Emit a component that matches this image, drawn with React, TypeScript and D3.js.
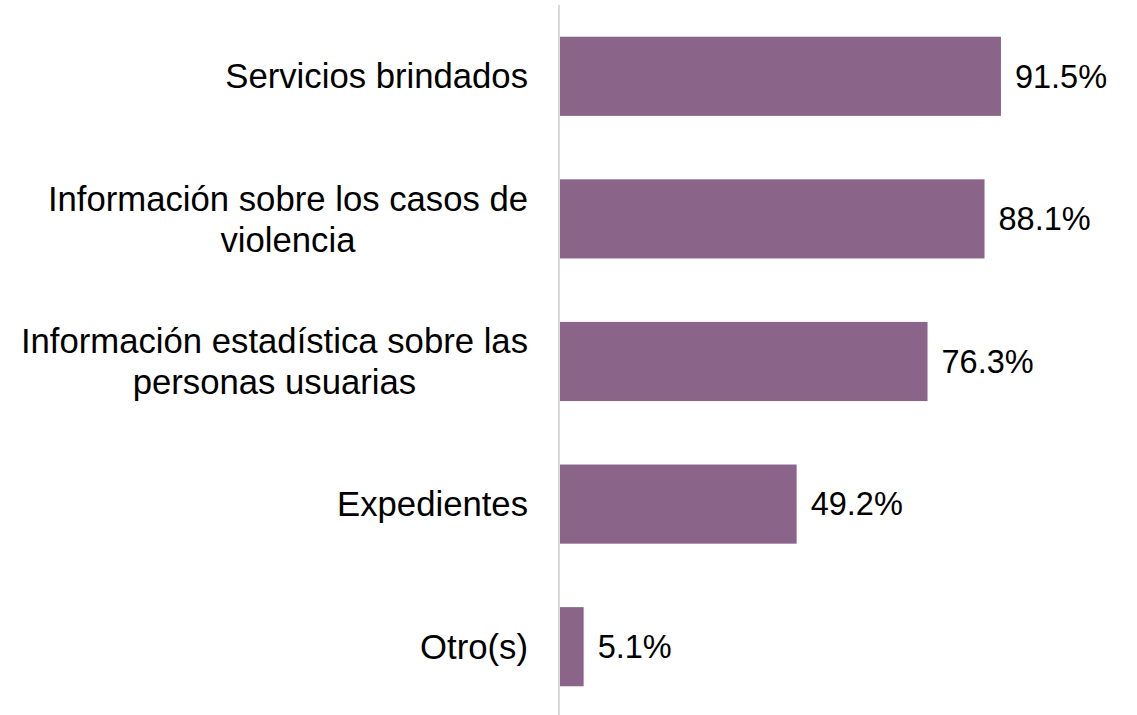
import React, { useEffect, useRef } from "react";
import * as d3 from "d3";

const categories: string[][] = [
  ["Servicios brindados"],
  ["Información sobre los casos de", "violencia"],
  ["Información estadística sobre las", "personas usuarias"],
  ["Expedientes"],
  ["Otro(s)"],
];
const values: number[] = [91.5, 88.1, 76.3, 49.2, 5.1];
const valueLabels: string[] = ["91.5%", "88.1%", "76.3%", "49.2%", "5.1%"];

const W = 1137;
const H = 715;
const X0 = 559;
const LABEL_RIGHT = 528;
const BAR_COLOR = "#8a6589";
const FONT = "'Liberation Sans', Arial, sans-serif";

export default function App() {
  const ref = useRef<SVGSVGElement | null>(null);

  useEffect(() => {
    const svg = d3.select(ref.current);
    svg.selectAll("*").remove();

    const ids = categories.map((_, i) => String(i));
    const y = d3
      .scaleBand<string>()
      .domain(ids)
      .range([5, 718])
      .paddingInner(0.445)
      .paddingOuter(0.2225);
    const x = d3.scaleLinear().domain([0, 100]).range([X0, X0 + 483]);

    // bars
    svg
      .append("g")
      .selectAll("rect")
      .data(values)
      .join("rect")
      .attr("x", x(0) + 1)
      .attr("y", (_, i) => y(ids[i])!)
      .attr("width", (d) => x(d) - x(0) - 1)
      .attr("height", y.bandwidth())
      .attr("fill", BAR_COLOR);

    // axis line
    svg
      .append("line")
      .attr("x1", X0)
      .attr("x2", X0)
      .attr("y1", 5)
      .attr("y2", H)
      .attr("stroke", "#d9d9d9")
      .attr("stroke-width", 2);

    // value labels
    svg
      .append("g")
      .selectAll("text")
      .data(values)
      .join("text")
      .attr("x", (d) => x(d) + 14)
      .attr("y", (_, i) => y(ids[i])! + y.bandwidth() / 2)
      .attr("dy", "0.35em")
      .attr("font-family", FONT)
      .attr("font-size", 32.5)
      .attr("fill", "#000")
      .text((_, i) => valueLabels[i]);

    // category labels
    const lineH = 41;
    categories.forEach((lines, i) => {
      const cy = y(ids[i])! + y.bandwidth() / 2;
      const g = svg.append("g");
      const texts = lines.map((ln, j) =>
        g
          .append("text")
          .attr("y", cy + (j - (lines.length - 1) / 2) * lineH)
          .attr("dy", "0.35em")
          .attr("font-family", FONT)
          .attr("font-size", 34.7)
          .attr("fill", "#000")
          .attr("text-anchor", "middle")
          .text(ln)
      );
      const maxW = d3.max(texts, (t) => (t.node() as SVGTextElement).getComputedTextLength()) || 0;
      texts.forEach((t) => t.attr("x", LABEL_RIGHT - maxW / 2));
    });
  }, []);

  return (
    <svg
      ref={ref}
      width={W}
      height={H}
      style={{ position: "absolute", left: 0, top: 0, background: "#fff" }}
    />
  );
}
